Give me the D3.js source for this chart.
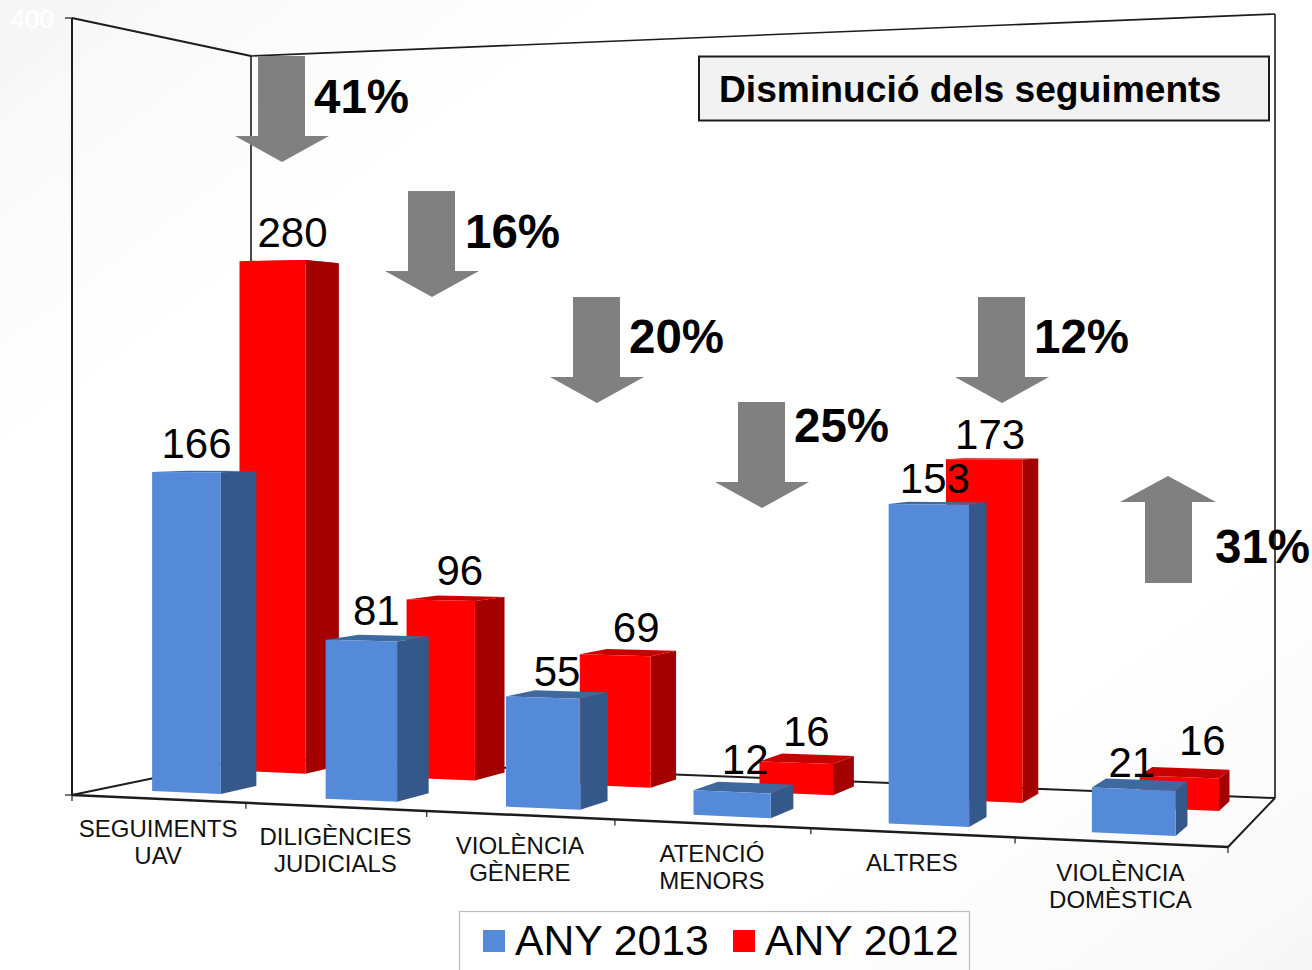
<!DOCTYPE html>
<html><head><meta charset="utf-8">
<script src="https://cdn.jsdelivr.net/npm/d3@7"></script>
<style>html,body{margin:0;padding:0;background:#fff}svg{display:block;font-family:"Liberation Sans",Arial,sans-serif}</style>
</head><body><svg id="c" width="1312" height="970"></svg>
<script>
// ---- data ----
const categories = [["SEGUIMENTS","UAV"],["DILIGÈNCIES","JUDICIALS"],["VIOLÈNCIA","GÈNERE"],["ATENCIÓ","MENORS"],["ALTRES"],["VIOLÈNCIA","DOMÈSTICA"]];
const any2013 = [166,81,55,12,153,21];
const any2012 = [280,96,69,16,173,16];
const changes = [-41,-16,-20,-25,-12,31];
const seriesNames = ["ANY 2013","ANY 2012"];
const valueTicks = [0,400];
const titleText = "Disminució dels seguiments";

// ---- layout ----
const floorFL=[72,795], floorFR=[1228,847], floorBR=[1275,798], floorBL=[251,758];
const wallFLtop=18, wallBLtop=56, wallBRtop=14;
const blueDepth=[.15,.35], redDepth=[.67,.885], blueW=.067, redW=.068, warpC=.023;
const labelNudge2013=[[10,-14],[15,-16],[14,-12],[13,-18],[6,-11],[-2,-12]];
const labelNudge2012=[[20,-14],[19,-15],[21,-13],[10,-17],[6,-10],[23,-22]];
const arrowAnchors=[[282,56],[432,191],[597,297],[762,402],[1002,297],[1168,476]];
const pctAnchors=[[314,113],[465,248],[629,353],[794,442],[1034,353],[1215,563]];

const svg=d3.select("#c");
const defs=svg.append("defs");
const bg=defs.append("linearGradient").attr("id","bg").attr("x1","0").attr("y1","0").attr("x2","1").attr("y2","1");
[[0,"#f6f6f6"],[.24,"#ffffff"],[.76,"#ffffff"],[1,"#f7f7f7"]].forEach(s=>bg.append("stop").attr("offset",s[0]).attr("stop-color",s[1]));
svg.append("rect").attr("width",1312).attr("height",970).attr("fill","url(#bg)");

// homography unit square (u across, t depth) -> floor
const [x0,y0]=floorFL,[x1,y1]=floorFR,[x2,y2]=floorBR,[x3,y3]=floorBL;
const dx1=x1-x2,dx2=x3-x2,sx=x0-x1+x2-x3,dy1=y1-y2,dy2=y3-y2,sy=y0-y1+y2-y3;
const den=dx1*dy2-dx2*dy1;
const g=(sx*dy2-dx2*sy)/den,h=(dx1*sy-sx*dy1)/den;
const a=x1-x0+g*x1,b=x3-x0+h*x3,d_=y1-y0+g*y1,e=y3-y0+h*y3;
const W=(u,t)=>g*u+h*t+1;
const fullFL=y0-wallFLtop, fullBL=(y3-wallBLtop)*W(0,1), fullBR=(y2-wallBRtop)*W(1,1);
const yScale=d3.scaleLinear().domain([0,400]).range([0,1]);
function P(u0,t,v){const u=u0+warpC*u0*(1-u0),w=W(u,t);
  const H=(fullFL+(fullBR-fullBL)*u+(fullBL-fullFL)*t)/w;
  return [(a*u+b*t+x0)/w,(d_*u+e*t+y0)/w-yScale(v)*H];}
const poly=d3.line();
const closed=pts=>poly(pts)+"Z";

const xBlue=d3.scaleLinear().domain([0,5]).range([.0496,.8855]);
const xRed=d3.scaleLinear().domain([0,5]).range([.0445,.8965]);
const xCat=d3.scaleBand().domain(d3.range(6)).range([0,1]);

// ---- frame ----
const frame=svg.append("g").attr("fill","none").attr("stroke","#1c1c1c").attr("stroke-width",2);
const seg=(p,q,sw)=>frame.append("path").attr("d",poly([p,q])).attr("stroke-width",sw||2);
seg(P(0,0,400),P(0,0,0)); seg(P(0,0,400),P(0,1,400)); seg(P(0,1,400),P(1,1,400),1.6);
seg(P(1,1,400),P(1,1,0),1.6); seg(P(0,1,400),P(0,1,0),1.6);
seg(P(0,0,0),P(0,1,0)); seg(P(0,1,0),P(1,1,0)); seg(P(1,1,0),P(1,0,0)); seg(P(1,0,0),P(0,0,0),2.5);
d3.range(7).forEach(i=>{const p=P(i/6,0,0);seg(p,[p[0],p[1]+6],1.2);});
valueTicks.forEach(v=>{const p=P(0,0,v);seg([p[0]-7,p[1]],p,1.2);
  svg.append("text").attr("x",p[0]-18).attr("y",p[1]+10).attr("text-anchor","end").attr("font-size",26).attr("fill","#fff").text(v);});

// ---- bars ----
function bar(u0,u1,t0,t1,v,c){
  const G=svg.append("g");
  G.append("path").attr("d",closed([P(u0,t0,v),P(u1,t0,v),P(u1,t1,v),P(u0,t1,v)])).attr("fill",c[2]);
  G.append("path").attr("d",closed([P(u1,t0,0),P(u1,t1,0),P(u1,t1,v),P(u1,t0,v)])).attr("fill",c[1]);
  G.append("path").attr("d",closed([P(u0,t0,0),P(u1,t0,0),P(u1,t0,v),P(u0,t0,v)])).attr("fill",c[0]);
}
const redCols=["#ff0000","#a50000","#c90000"], blueCols=["#558ad9","#35588a","#3f689f"];
any2012.forEach((v,i)=>bar(xRed(i),xRed(i)+redW,redDepth[0],redDepth[1],v,redCols));
any2013.forEach((v,i)=>bar(xBlue(i),xBlue(i)+blueW,blueDepth[0],blueDepth[1],v,blueCols));

// ---- value labels ----
function vLabel(v,u0,u1,t,n){const l=P(u0,t,v),r=P(u1,t,v);
  svg.append("text").attr("x",(l[0]+r[0])/2+n[0]).attr("y",(l[1]+r[1])/2+n[1]).attr("text-anchor","middle")
   .attr("font-size",42).attr("fill","#000").text(v);}
any2012.forEach((v,i)=>vLabel(v,xRed(i),xRed(i)+redW,redDepth[0],labelNudge2012[i]));
any2013.forEach((v,i)=>vLabel(v,xBlue(i),xBlue(i)+blueW,blueDepth[0],labelNudge2013[i]));

// ---- category labels ----
categories.forEach((lines,i)=>{const p=P(xCat(i)+xCat.bandwidth()/2,0,0);
  lines.forEach((s,j)=>svg.append("text").attr("x",p[0]).attr("y",p[1]+38.5+j*27).attr("text-anchor","middle")
    .attr("font-size",24).attr("fill","#111").text(s));});

// ---- arrows ----
changes.forEach((c,i)=>{const [ax,ay]=arrowAnchors[i];
  const pts=c<0
   ?[[ax-24,ay],[ax+23,ay],[ax+23,ay+80],[ax+47,ay+80],[ax,ay+106],[ax-47,ay+80],[ax-24,ay+80]]
   :[[ax,ay],[ax+48,ay+26],[ax+24,ay+26],[ax+24,ay+107],[ax-23,ay+107],[ax-23,ay+26],[ax-48,ay+26]];
  svg.append("path").attr("d",closed(pts)).attr("fill","#808080");
  svg.append("text").attr("x",pctAnchors[i][0]).attr("y",pctAnchors[i][1]).attr("font-size",47.5).attr("font-weight","bold").attr("fill","#000").text(Math.abs(c)+"%");
});

// ---- title ----
svg.append("rect").attr("x",699).attr("y",56.5).attr("width",570).attr("height",64).attr("fill","#f2f2f2").attr("stroke","#1c1c1c").attr("stroke-width",2);
svg.append("text").attr("x",719).attr("y",102).attr("font-size",37.2).attr("font-weight","bold").attr("fill","#000").text(titleText);

// ---- legend ----
svg.append("rect").attr("x",459.5).attr("y",911.5).attr("width",510).attr("height",70).attr("fill","none").attr("stroke","#bdbdbd").attr("stroke-width",1.2);
[[483,515,"#558ad9"],[733,765,"#ff0000"]].forEach((l,i)=>{
  svg.append("rect").attr("x",l[0]).attr("y",930).attr("width",22).attr("height",22).attr("fill",l[2]);
  svg.append("text").attr("x",l[1]).attr("y",955).attr("font-size",42.7).attr("fill","#000").text(seriesNames[i]);
});
</script></body></html>
